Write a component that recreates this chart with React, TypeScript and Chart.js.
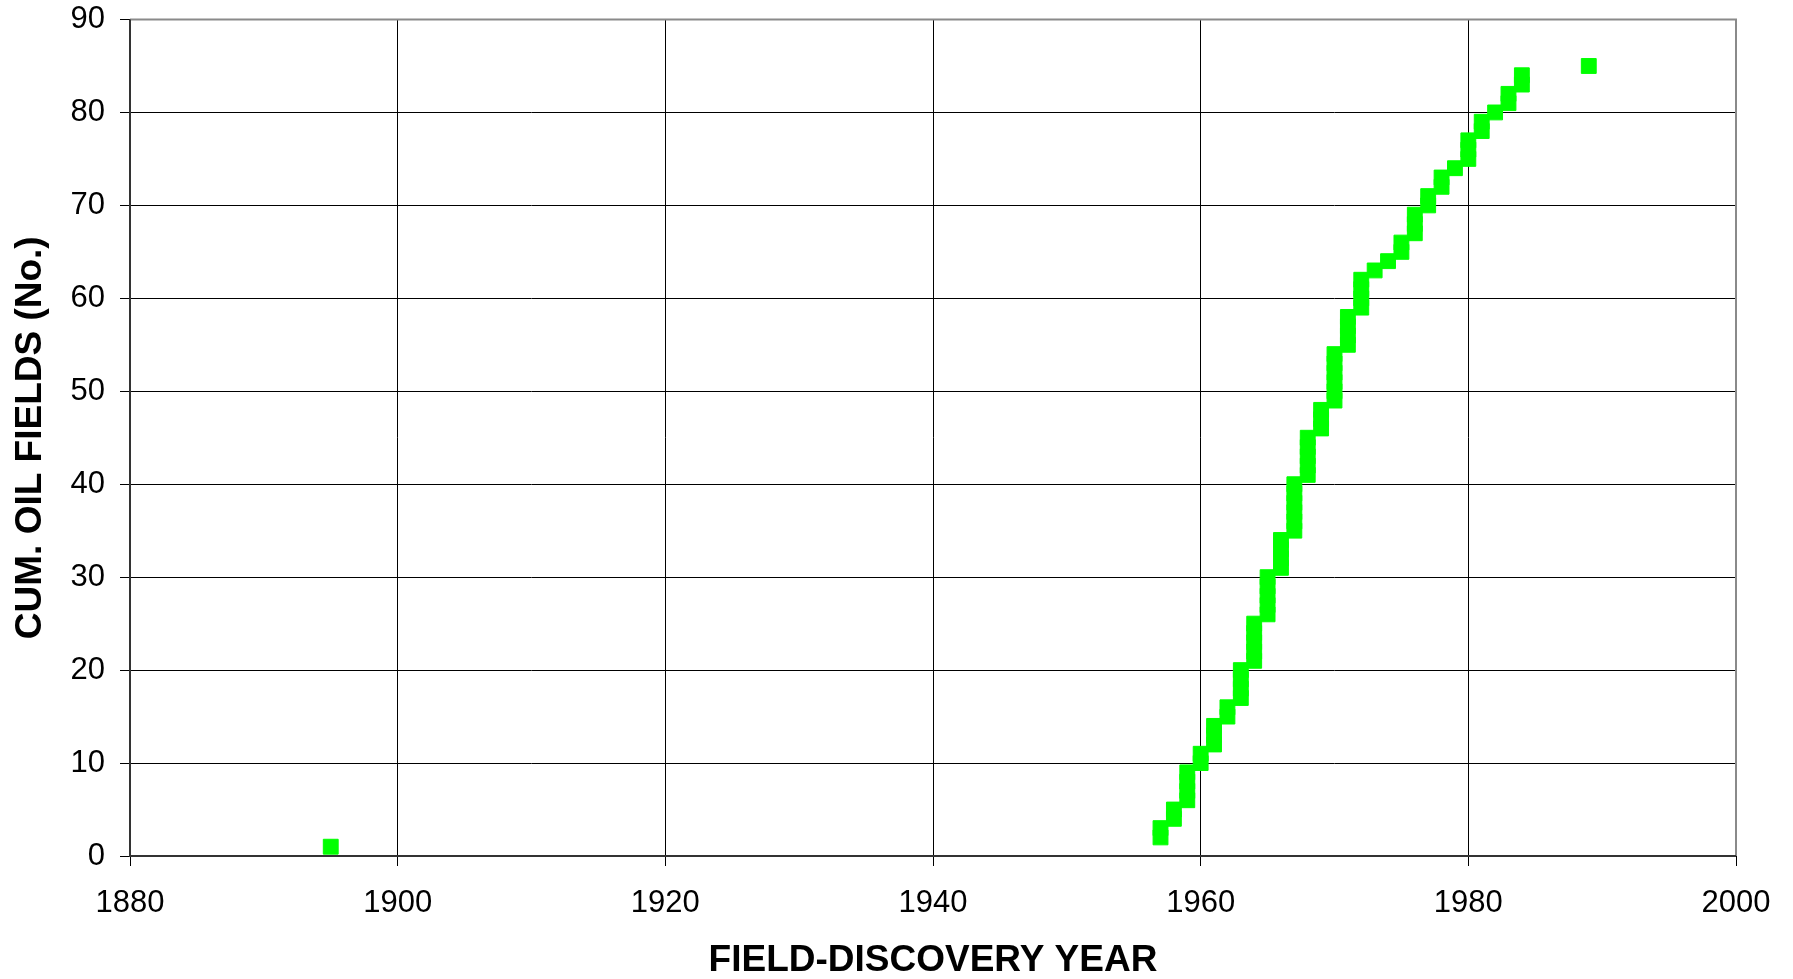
import React, { useEffect, useRef } from "react";
import { Chart, registerables } from "chart.js";

Chart.register(...registerables);

// Discovery year of each field (in order) and the cumulative field count
const discoveryYears = [
  1895,
  1957, 1957,
  1958, 1958,
  1959, 1959, 1959, 1959,
  1960, 1960,
  1961, 1961, 1961,
  1962, 1962,
  1963, 1963, 1963, 1963,
  1964, 1964, 1964, 1964, 1964,
  1965, 1965, 1965, 1965, 1965,
  1966, 1966, 1966, 1966,
  1967, 1967, 1967, 1967, 1967, 1967,
  1968, 1968, 1968, 1968, 1968,
  1969, 1969, 1969,
  1970, 1970, 1970, 1970, 1970, 1970,
  1971, 1971, 1971, 1971,
  1972, 1972, 1972, 1972,
  1973,
  1974,
  1975, 1975,
  1976, 1976, 1976,
  1977, 1977,
  1978, 1978,
  1979,
  1980, 1980, 1980,
  1981, 1981,
  1982,
  1983, 1983,
  1984, 1984,
  1989,
];

const cumulativeFields = [
  1,
  2, 3,
  4, 5,
  6, 7, 8, 9,
  10, 11,
  12, 13, 14,
  15, 16,
  17, 18, 19, 20,
  21, 22, 23, 24, 25,
  26, 27, 28, 29, 30,
  31, 32, 33, 34,
  35, 36, 37, 38, 39, 40,
  41, 42, 43, 44, 45,
  46, 47, 48,
  49, 50, 51, 52, 53, 54,
  55, 56, 57, 58,
  59, 60, 61, 62,
  63,
  64,
  65, 66,
  67, 68, 69,
  70, 71,
  72, 73,
  74,
  75, 76, 77,
  78, 79,
  80,
  81, 82,
  83, 84,
  85,
];

const xTickValues = [1880, 1900, 1920, 1940, 1960, 1980, 2000];
const yTickValues = [0, 10, 20, 30, 40, 50, 60, 70, 80, 90];

const xTitle = "FIELD-DISCOVERY YEAR";
const yTitle = "CUM. OIL FIELDS (No.)";

const W = 1793;
const H = 979;
const FONT = "'Liberation Sans', Arial, Helvetica, sans-serif";

const frameBorder = {
  id: "frameBorder",
  afterDatasetsDraw(chart: any) {
    const { ctx, chartArea } = chart;
    ctx.save();
    ctx.strokeStyle = "#8a8a8a";
    ctx.lineWidth = 2;
    ctx.beginPath();
    ctx.moveTo(chartArea.left, chartArea.top);
    ctx.lineTo(chartArea.right, chartArea.top);
    ctx.lineTo(chartArea.right, chartArea.bottom);
    ctx.stroke();
    ctx.strokeStyle = "#333333";
    ctx.beginPath();
    ctx.moveTo(chartArea.left, chartArea.top);
    ctx.lineTo(chartArea.left, chartArea.bottom);
    ctx.lineTo(chartArea.right, chartArea.bottom);
    ctx.stroke();
    ctx.restore();
  },
};

export default function App() {
  const ref = useRef<HTMLCanvasElement | null>(null);

  useEffect(() => {
    if (!ref.current) return;
    const points = discoveryYears.map((yr, i) => ({ x: yr, y: cumulativeFields[i] }));
    const chart = new Chart(ref.current, {
      type: "scatter",
      data: {
        datasets: [
          {
            label: "Oil fields",
            data: points,
            pointStyle: "rect",
            pointRadius: 10.5,
            pointHoverRadius: 10.5,
            backgroundColor: "#00ff00",
            borderColor: "#00ff00",
            borderWidth: 1,
          },
        ],
      },
      options: {
        responsive: false,
        animation: false,
        events: [],
        layout: { autoPadding: false, padding: { left: 0, top: 19.5, right: 57, bottom: 0 } },
        plugins: {
          legend: { display: false },
          tooltip: { enabled: false },
        },
        scales: {
          x: {
            type: "linear",
            min: xTickValues[0],
            max: xTickValues[xTickValues.length - 1],
            afterBuildTicks: (s: any) => {
              s.ticks = xTickValues.map((v) => ({ value: v }));
            },
            afterFit: (s: any) => {
              s.height = 123;
              s.paddingLeft = 0;
              s.paddingRight = 0;
            },
            border: { display: false },
            grid: {
              color: "#000000",
              lineWidth: 1,
              drawTicks: true,
              tickLength: 10,
              tickColor: "#000000",
            },
            ticks: {
              color: "#000000",
              padding: 19,
              font: { family: FONT, size: 31 },
              callback: (v: any) => String(v),
              maxRotation: 0,
            },
            title: {
              display: true,
              text: xTitle,
              color: "#000000",
              font: { family: FONT, size: 37, weight: "bold", lineHeight: 1.0 },
              padding: { top: 0, bottom: 0 },
            },
          },
          y: {
            type: "linear",
            min: yTickValues[0],
            max: yTickValues[yTickValues.length - 1],
            afterBuildTicks: (s: any) => {
              s.ticks = yTickValues.map((v) => ({ value: v }));
            },
            afterFit: (s: any) => {
              s.width = 130;
              s.paddingTop = 0;
              s.paddingBottom = 0;
            },
            border: { display: false },
            grid: {
              color: "#000000",
              lineWidth: 1,
              drawTicks: true,
              tickLength: 10,
              tickColor: "#000000",
            },
            ticks: {
              color: "#000000",
              padding: 15,
              font: { family: FONT, size: 31 },
              callback: (v: any) => String(v),
            },
            title: {
              display: true,
              text: yTitle,
              color: "#000000",
              font: { family: FONT, size: 37, weight: "bold", lineHeight: 1.0 },
              padding: { top: 12, bottom: 0 },
            },
          },
        },
      },
      plugins: [frameBorder],
    });
    return () => chart.destroy();
  }, []);

  return (
    <div style={{ position: "fixed", left: 0, top: 0, width: W, height: H, background: "#ffffff" }}>
      <canvas ref={ref} width={W} height={H} style={{ display: "block", width: W, height: H }} />
    </div>
  );
}
